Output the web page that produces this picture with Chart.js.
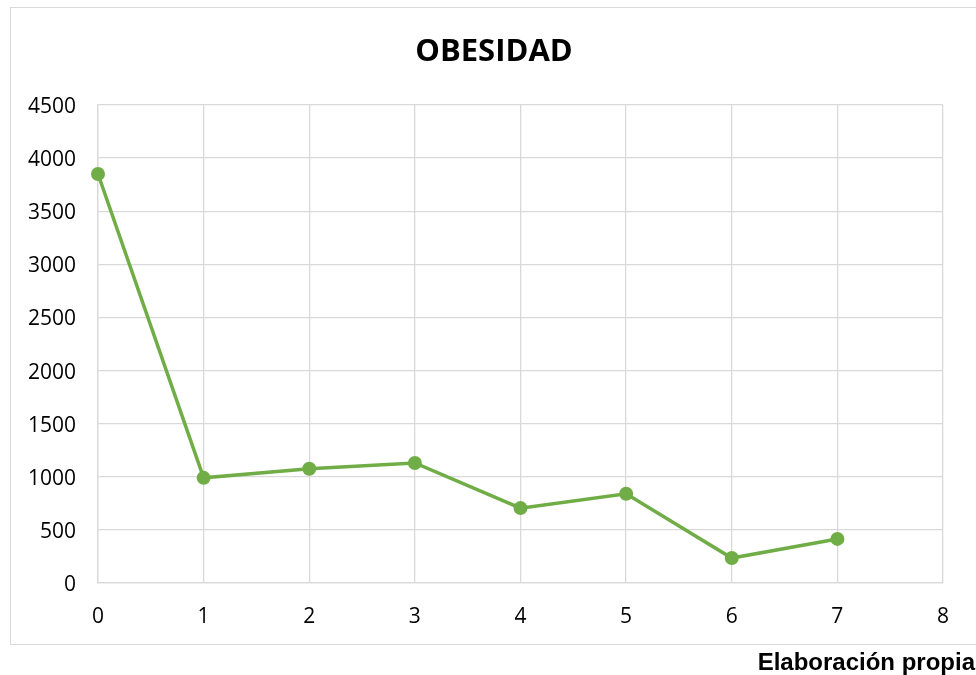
<!DOCTYPE html>
<html>
<head>
<meta charset="utf-8">
<script src="https://cdn.jsdelivr.net/npm/chart.js@4/dist/chart.umd.min.js"></script>
<style>
  html, body { margin: 0; padding: 0; background: #fff; width: 976px; height: 675px; overflow: hidden; }
  #frame { position: absolute; left: 10px; top: 7px; width: 980px; height: 636px; border: 1px solid #d9d9d9; box-sizing: content-box; }
  #wrap { position: absolute; left: 0; top: 0; width: 976px; height: 675px; }
  #note { position: absolute; right: 1px; top: 648px; font-family: "Liberation Sans", Arial, sans-serif; font-weight: bold; font-size: 24px; line-height: 1.15; color: #000; white-space: nowrap; }
</style>
</head>
<body>
<div id="frame"></div>
<div id="wrap"><canvas id="c" width="976" height="675"></canvas></div>
<div id="note">Elaboración propia</div>
<script>
const xValues = [0, 1, 2, 3, 4, 5, 6, 7];
const obesidad = [3850, 990, 1075, 1130, 705, 840, 235, 415];
const yTicks = [0, 500, 1000, 1500, 2000, 2500, 3000, 3500, 4000, 4500];
const xTicks = [0, 1, 2, 3, 4, 5, 6, 7, 8];
const titleText = 'OBESIDAD';

const points = xValues.map((x, i) => ({ x: x, y: obesidad[i] }));
const green = '#70AD47';
const gridColor = '#d9d9d9';
const tickFont = { family: '"Open Sans", sans-serif', size: 21 };

const centeredTitle = {
  id: 'centeredTitle',
  afterDraw(chart) {
    const ctx = chart.ctx;
    ctx.save();
    ctx.font = 'bold 31px "Open Sans", sans-serif';
    ctx.fillStyle = '#000';
    ctx.textAlign = 'center';
    ctx.textBaseline = 'middle';
    ctx.fillText(titleText, 494, 52);
    ctx.restore();
  }
};

new Chart(document.getElementById('c'), {
  type: 'line',
  data: {
    datasets: [{
      data: points,
      borderColor: green,
      backgroundColor: green,
      borderWidth: 3.5,
      pointRadius: 7,
      pointHoverRadius: 7,
      pointBackgroundColor: green,
      pointBorderColor: green,
      pointBorderWidth: 0,
      tension: 0,
      fill: false,
      clip: false
    }]
  },
  plugins: [centeredTitle],
  options: {
    responsive: false,
    animation: false,
    layout: { padding: { left: 0, right: 33, top: 105, bottom: 0 } },
    plugins: {
      legend: { display: false },
      tooltip: { enabled: false },
      title: { display: false }
    },
    scales: {
      x: {
        type: 'linear',
        min: 0,
        max: 8,
        afterBuildTicks: (s) => { s.ticks = xTicks.map(v => ({ value: v })); },
        afterFit: (s) => { s.height = 92; },
        grid: { color: gridColor, lineWidth: 1.3, drawTicks: false },
        border: { color: gridColor, width: 1.3 },
        ticks: { color: '#000', font: tickFont, padding: 21, maxRotation: 0, callback: (v) => String(v) }
      },
      y: {
        min: 0,
        max: 4500,
        afterBuildTicks: (s) => { s.ticks = yTicks.map(v => ({ value: v })); },
        afterFit: (s) => { s.width = 98; },
        grid: { color: gridColor, lineWidth: 1.3, drawTicks: false },
        border: { color: gridColor, width: 1.3 },
        ticks: { color: '#000', font: tickFont, padding: 22, labelOffset: 2, callback: (v) => String(v) }
      }
    }
  }
});
</script>
</body>
</html>
